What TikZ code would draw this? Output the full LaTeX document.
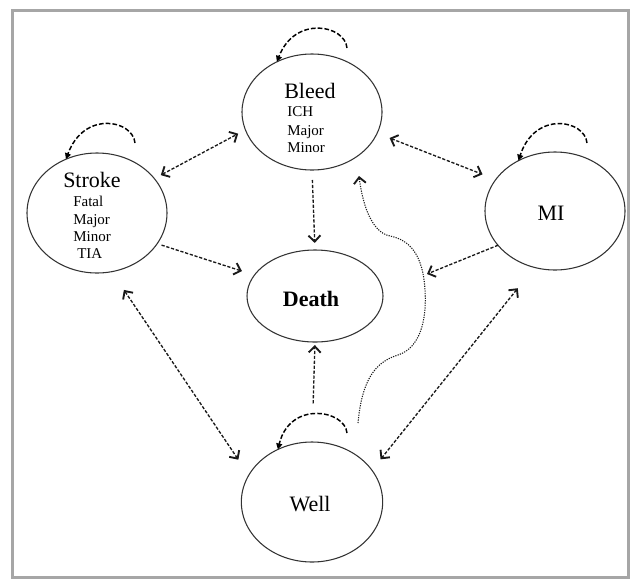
\documentclass[tikz,border=0pt]{standalone}
\usepackage{fontspec}
\setmainfont{Liberation Serif}
\usetikzlibrary{shapes.geometric,arrows.meta}
\definecolor{framegray}{HTML}{A6A6A6}
\tikzset{
  st/.style={draw=black!80, line width=0.8pt, ellipse, inner sep=0pt, outer sep=0pt},
  conn/.style={line width=1pt, dash pattern=on 2.4pt off 1.3pt, black!90},
  dotc/.style={line width=0.8pt, dash pattern=on 0.9pt off 0.9pt, black!90},
  loopst/.style={line width=1.1pt, dash pattern=on 3.5pt off 1.6pt, black, -{Triangle[length=4.5pt,width=4.5pt]}},
  big/.style={inner sep=0pt, font=\fontsize{16.5}{19}\selectfont},
  small/.style={inner sep=0pt, font=\fontsize{11.25}{13}\selectfont},
  >={Straight Barb[length=4.6pt,width=9pt,line width=1.4pt]}
}
\begin{document}
\begin{tikzpicture}[x=0.75pt,y=-0.75pt]
\useasboundingbox (0,0) rectangle (635,579);
\draw[framegray, line width=2.25pt] (12,10) rectangle (628,577);

% states
\node[st, minimum width=105pt, minimum height=87pt] (Bleed) at (312,112) {};
\node[st, minimum width=105pt, minimum height=90pt] (Stroke) at (97,213) {};
\node[st, minimum width=102pt, minimum height=69pt] (Death) at (315,296) {};
\node[st, minimum width=106pt, minimum height=90pt] (Well) at (312,502) {};
\node[st, minimum width=105pt, minimum height=88.5pt] (MI) at (555,211) {};

% texts
\node[big, anchor=base west] (tBleed) at (284,98.3) {Bleed};
\node[small, anchor=base west] (tICH) at (287,116.7) {ICH};
\node[small, anchor=base west] (tBMaj) at (287,135.2) {Major};
\node[small, anchor=base west] (tBMin) at (287,152.7) {Minor};

\node[big, anchor=base west] (tStroke) at (63,187) {Stroke};
\node[small, anchor=base west] (tFatal) at (73,206) {Fatal};
\node[small, anchor=base west] (tSMaj) at (73,224) {Major};
\node[small, anchor=base west] (tSMin) at (73,241) {Minor};
\node[small, anchor=base west] (tTIA) at (77,258) {TIA};

\node[big, anchor=base, font=\fontsize{16.5}{19}\selectfont\bfseries] (tDeath) at (311,306) {Death};
\node[big, anchor=base] (tMI) at (551,220) {MI};
\node[big, anchor=base] (tWell) at (310,511) {Well};

% connectors
\draw[conn, <->, shorten <=5.5pt, shorten >=6.1pt] (Stroke.31.8) -- (Bleed.195.8);
\draw[conn, <->, shorten <=10pt, shorten >=10.7pt] (Bleed.342.2) -- (MI.152.2);
\draw[conn, ->, shorten <=7.5pt, shorten >=5.3pt] (Bleed.270) -- (Death.90);
\draw[conn, ->, shorten <=3.5pt, shorten >=9.8pt] (Stroke.333.8) -- (Death.161.1);
\coordinate (mitip) at (427,274);
\draw[conn, ->] (MI.211.1) -- (mitip);
\draw[conn, ->, shorten <=29pt, shorten >=2.3pt] (Well.90) -- (Death.270);
\draw[conn, <->, shorten <=16.5pt, shorten >=14pt] (Stroke.284.7) -- (Well.157);
\draw[conn, <->, shorten <=20pt, shorten >=10.4pt] (MI.250.1) -- (Well.28.8);

% dotted curve Well -> Bleed
\coordinate (cs) at (358,423);
\coordinate (ce) at (359,176);
\draw[dotc, ->] (cs) .. controls (362,380) and (375,362) .. (398,355)
  .. controls (420,348) and (427,320) .. (425,290)
  .. controls (423,255) and (410,240) .. (390,236)
  .. controls (370,232) and (362,200) .. (ce);

% self loops
\coordinate (lB) at (347,48);
\coordinate (lS) at (135,143);
\coordinate (lM) at (587,143);
\coordinate (lW) at (347,433);
\draw[loopst] (lB) .. controls (345,25) and (295,15) .. (Bleed.125);
\draw[loopst] (lS) .. controls (133,120) and (84,110) .. (Stroke.120);
\draw[loopst] (lM) .. controls (585,120) and (535,110) .. (MI.126);
\draw[loopst] (lW) .. controls (345,410) and (290,400) .. (Well.123);
\end{tikzpicture}
\end{document}
